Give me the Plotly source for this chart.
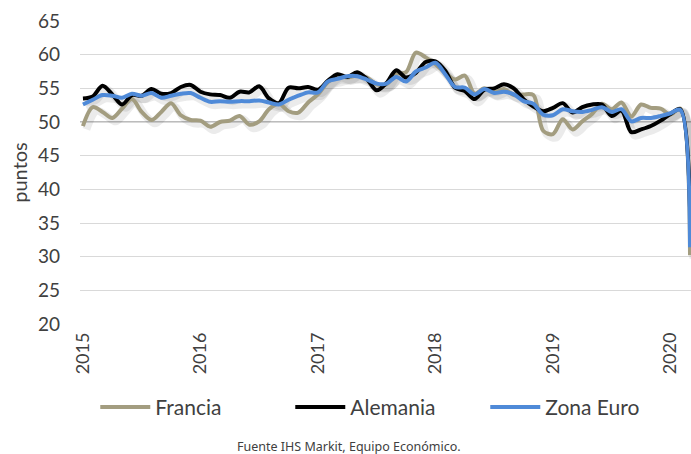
import plotly.graph_objects as go

years = ["2015", "2016", "2017", "2018", "2019", "2020"]
months = list(range(63))  # Jan 2015 .. Mar 2020

francia = [49.4, 52.2, 51.5, 50.6, 52.0, 53.4, 51.5, 50.3, 51.5, 52.8, 51.0, 50.3,
           50.2, 49.3, 50.0, 50.2, 50.9, 49.6, 50.1, 51.9, 52.7, 51.6, 51.4, 52.9,
           54.1, 55.9, 56.8, 56.6, 56.9, 56.6, 55.6, 55.6, 57.1, 57.4, 60.3, 59.6,
           58.6, 57.3, 56.3, 56.9, 54.2, 55.0, 54.4, 54.9, 54.0, 54.1, 54.0, 48.7,
           48.2, 50.4, 48.9, 50.1, 51.2, 52.7, 51.9, 52.9, 50.8, 52.6, 52.1, 52.0,
           51.1, 52.0, 30.2]
alemania = [53.5, 53.8, 55.4, 54.1, 52.6, 54.0, 53.9, 54.9, 54.2, 54.3, 55.2, 55.5,
            54.5, 54.1, 54.0, 53.6, 54.5, 54.4, 55.3, 53.5, 52.8, 55.1, 55.0, 55.2,
            54.8, 56.1, 57.1, 56.7, 57.4, 56.4, 54.7, 55.8, 57.7, 56.6, 57.3, 58.9,
            59.0, 57.6, 55.1, 54.6, 53.4, 54.8, 55.0, 55.6, 55.0, 53.4, 52.3, 51.6,
            52.1, 52.8, 51.4, 52.2, 52.6, 52.6, 50.9, 51.7, 48.5, 48.9, 49.4, 50.2,
            51.2, 51.9, 37.2]
zona_euro = [52.6, 53.3, 54.0, 53.9, 53.6, 54.2, 53.9, 54.3, 53.6, 53.9, 54.2, 54.3,
             53.6, 53.0, 53.1, 53.0, 53.1, 53.1, 53.2, 52.9, 52.6, 53.3, 53.9, 54.4,
             54.4, 56.0, 56.4, 56.8, 56.8, 56.3, 55.7, 55.7, 56.7, 56.0, 57.5, 58.1,
             58.8, 57.1, 55.2, 55.1, 54.1, 54.9, 54.3, 54.5, 54.1, 53.1, 52.7, 51.1,
             51.0, 51.9, 51.6, 51.5, 51.8, 52.2, 51.5, 51.9, 50.1, 50.6, 50.6, 50.9,
             51.3, 51.8, 31.4]
axis_cross = 50

series = [("Francia", francia, "#A39D80"),
          ("Alemania", alemania, "#000000"),
          ("Zona Euro", zona_euro, "#4F8AD8")]

fig = go.Figure()

# soft drop shadows (derived from the data, shifted slightly)
for name, vals, col in series:
    fig.add_trace(go.Scatter(
        x=[m + 0.35 for m in months], y=[v - 0.5 for v in vals],
        mode="lines", line=dict(color="rgba(0,0,0,0.08)", width=8, shape="spline", smoothing=0.9),
        showlegend=False, hoverinfo="skip"))

for name, vals, col in series:
    fig.add_trace(go.Scatter(
        x=months, y=vals, name=name, mode="lines",
        line=dict(color=col, width=4, shape="spline", smoothing=0.9)))

fig.add_shape(type="line", xref="paper", x0=0, x1=1, yref="y", y0=axis_cross, y1=axis_cross,
              line=dict(color="#A6A6A6", width=1.5), layer="below")

font_main = "Lato, 'Noto Sans', sans-serif"

fig.update_layout(
    width=691, height=454,
    margin=dict(l=80, r=0, t=21, b=130),
    paper_bgcolor="white", plot_bgcolor="white",
    font=dict(family=font_main, color="#404040", size=18),
    xaxis=dict(range=[-0.3, 62.1], tickvals=[0, 12, 24, 36, 48, 60], ticktext=years,
               tickangle=-90, showgrid=False, zeroline=False, showline=False,
               tickfont=dict(size=18, color="#404040"), ticks="", ticklabelstandoff=4),
    yaxis=dict(range=[20, 65], dtick=5, showgrid=True, gridcolor="#D9D9D9", gridwidth=1.3,
               zeroline=False, showline=False, tickfont=dict(size=19, color="#404040"),
               ticks="", ticklabelstandoff=19,
               title=dict(text="puntos", font=dict(size=20, color="#404040"), standoff=4)),
    legend=dict(orientation="h", x=0.025, xanchor="left", y=-0.275, yanchor="middle",
                font=dict(size=21, color="#404040"), entrywidth=130, entrywidthmode="pixels",
                itemwidth=50, traceorder="normal"),
    annotations=[dict(text="Fuente IHS Markit, Equipo Económico.", xref="paper", yref="paper",
                      x=(349 - 80) / 611, y=-0.405, xanchor="center", yanchor="middle",
                      showarrow=False,
                      font=dict(family="'Liberation Sans Narrow', 'Noto Sans', sans-serif",
                                size=12.5, color="#404040"))],
)

fig.write_html("out.html")
